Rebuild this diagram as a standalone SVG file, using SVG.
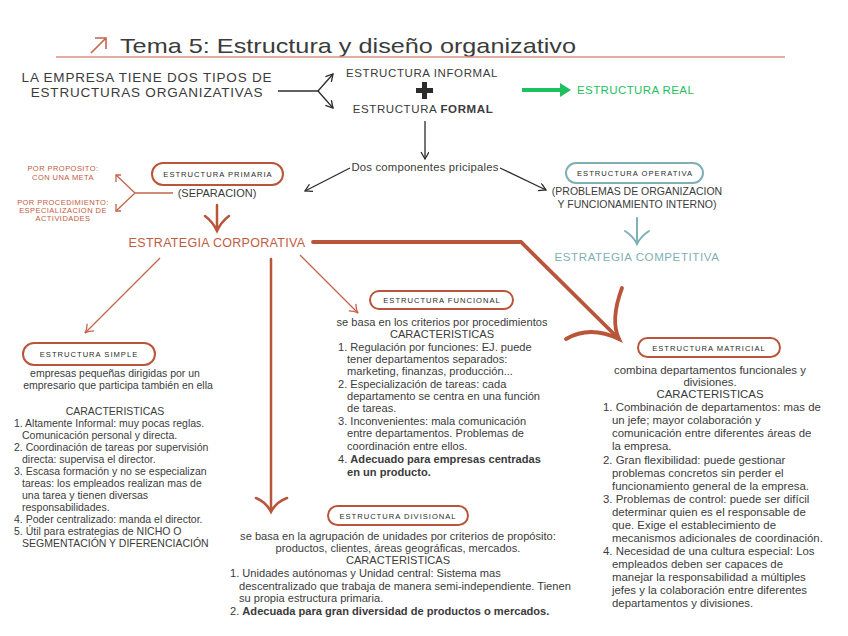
<svg xmlns="http://www.w3.org/2000/svg" width="848" height="636" viewBox="0 0 848 636">
<defs>
<style>
text{font-family:"Liberation Sans",Arial,sans-serif;fill:#3b3b3b}
.t{font-size:10.5px}
.tf{font-size:11.1px}
.tm{font-size:11.4px}
.td{font-size:11.1px}
.c{text-anchor:middle}
.b{font-weight:bold}
.red{fill:#bf5b42}
.sm{font-size:7.5px;letter-spacing:0.45px}
.teal{fill:#7fb0b5}
.pill{fill:#fff;stroke:#b9553b;stroke-width:2}
.pillT{fill:#fff;stroke:#7fb0b5;stroke-width:2}
.pt{font-size:7.6px;letter-spacing:1px;text-anchor:middle;fill:#2b2b2b}
.blk{fill:none;stroke:#2b2b2b;stroke-width:1.3}
.rl{fill:none;stroke:#c4644b;stroke-width:1.3}
.rt{fill:none;stroke:#b9553b;stroke-width:2.5;stroke-linecap:round}
.rth{fill:none;stroke:#b9553b;stroke-width:3.8;stroke-linecap:round}
</style>
<marker id="ab" markerWidth="10" markerHeight="10" refX="8" refY="4" orient="auto" markerUnits="userSpaceOnUse">
<path d="M1,0 L8,4 L1,8" fill="none" stroke="#2b2b2b" stroke-width="1.3"/>
</marker>
<marker id="ar" markerWidth="12" markerHeight="12" refX="9" refY="5" orient="auto" markerUnits="userSpaceOnUse">
<path d="M1,0 Q5,4 9,5 Q5,6 1,10" fill="none" stroke="#c4644b" stroke-width="1.3"/>
</marker>
</defs>
<rect width="848" height="636" fill="#fff"/>

<g id="title">
<path d="M91,53 L106,38 M95,38 L106,38 L106,49" fill="none" stroke="#c4644b" stroke-width="1.6"/>
<text x="120" y="53" font-size="21" fill="#3b3b3b" textLength="456" lengthAdjust="spacingAndGlyphs">Tema 5: Estructura y diseño organizativo</text>
<line x1="56" y1="57" x2="785" y2="57" stroke="#d8937f" stroke-width="1.5"/>
</g>

<g id="connectors">
<path class="blk" d="M278,91 L318,91"/>
<path class="blk" d="M318,91 L333,74" marker-end="url(#ab)"/>
<path class="blk" d="M318,91 L333,108" marker-end="url(#ab)"/>
<path d="M522,90 L562,90" stroke="#1ec15f" stroke-width="4" fill="none"/>
<path d="M560,83 L571,90 L560,97 Z" fill="#1ec15f"/>
<path class="blk" d="M425,121 L425,159" marker-end="url(#ab)"/>
<path class="blk" d="M350,168 L305,191" marker-end="url(#ab)"/>
<path class="blk" d="M500,168 L546,190" marker-end="url(#ab)"/>
<path class="rl" d="M173,193 L135,193 M135,193 L116,175 M135,193 L116,211"/>
<path class="rl" d="M121,175 L116,175 L116,182 M121,211 L116,211 L116,204"/>
<path class="rt" d="M217,205 L217,231 M205,216 Q213,222 217,231 Q221,222 229,216"/>
<path d="M637,218 L637,244 M625,231 Q633,236 637,244 Q641,236 649,231" fill="none" stroke="#7fb0b5" stroke-width="2" stroke-linecap="round"/>
<path class="rth" d="M313,242 L521,242 L619,339"/>
<path class="rth" d="M622,288 Q610,320 619,339 Q590,325 566,339"/>
<path class="rl" d="M300,255 L358,313" marker-end="url(#ar)"/>
<path class="rl" d="M160,258 L85,333" marker-end="url(#ar)"/>
<path class="rt" d="M271,259 L271,512 M256,498 Q266,502 271,512 Q276,502 287,498"/>
</g>

<g id="intro">
<text x="147" y="82" font-size="13.5" class="c" letter-spacing="0.8">LA EMPRESA TIENE DOS TIPOS DE</text>
<text x="147" y="97" font-size="13.5" class="c" letter-spacing="0.8">ESTRUCTURAS ORGANIZATIVAS</text>
</g>

<g id="informal">
<text x="422" y="77" font-size="11.5" class="c" letter-spacing="0.6">ESTRUCTURA INFORMAL</text>
<path d="M422,82 h5 v6 h6 v5 h-6 v6 h-5 v-6 h-6 v-5 h6 z" fill="#2b2b2b"/>
<text x="423" y="113" font-size="11.5" class="c" letter-spacing="0.6">ESTRUCTURA <tspan class="b">FORMAL</tspan></text>
</g>

<g id="real">
<text x="577" y="94" font-size="11.5" letter-spacing="0.4" style="fill:#1ec15f">ESTRUCTURA REAL</text>
</g>

<g id="componentes">
<text x="425" y="171" font-size="11.3" class="c" letter-spacing="0.2">Dos componentes pricipales</text>
</g>

<g id="primaria">
<rect class="pill" x="152" y="163" width="131" height="22" rx="11"/>
<text x="218" y="177" class="pt">ESTRUCTURA PRIMARIA</text>
<text x="217" y="197" font-size="11" class="c">(SEPARACION)</text>
</g>

<g id="proposito">
<text x="63" y="171" class="c red sm">POR PROPOSITO:</text>
<text x="63" y="180" class="c red sm">CON UNA META</text>
<text x="63" y="205" class="c red sm">POR PROCEDIMIENTO:</text>
<text x="63" y="213" class="c red sm">ESPECIALIZACION DE</text>
<text x="63" y="221" class="c red sm">ACTIVIDADES</text>
</g>

<g id="corporativa">
<text x="217" y="247" font-size="12.5" class="c red" letter-spacing="0.3">ESTRATEGIA  CORPORATIVA</text>
</g>

<g id="operativa">
<rect class="pillT" x="566" y="163" width="137" height="20" rx="10"/>
<text x="635" y="176" class="pt">ESTRUCTURA OPERATIVA</text>
<text x="637" y="195" font-size="10.5" class="c">(PROBLEMAS DE ORGANIZACION</text>
<text x="637" y="208" font-size="10.5" class="c">Y FUNCIONAMIENTO INTERNO)</text>
</g>

<g id="competitiva">
<text x="637" y="261" font-size="11.5" class="c teal" letter-spacing="0.6">ESTRATEGIA COMPETITIVA</text>
</g>

<g id="simple">
<rect class="pill" x="23" y="343" width="132" height="22" rx="11"/>
<text x="89" y="357" class="pt">ESTRUCTURA SIMPLE</text>
<text x="115" y="377" class="t c">empresas pequeñas dirigidas por un</text>
<text x="118" y="389" class="t c">empresario que participa también en ella</text>
<text x="115" y="415" class="t c">CARACTERISTICAS</text>
<text x="14" y="427" class="t">1. Altamente Informal: muy pocas reglas.</text>
<text x="22" y="439" class="t">Comunicación personal y directa.</text>
<text x="14" y="451" class="t">2. Coordinación de tareas por supervisión</text>
<text x="22" y="463" class="t">directa: supervisa el director.</text>
<text x="14" y="475" class="t">3. Escasa formación y no se especializan</text>
<text x="22" y="487" class="t">tareas: los empleados realizan mas de</text>
<text x="22" y="499" class="t">una tarea y tienen diversas</text>
<text x="22" y="511" class="t">responsabilidades.</text>
<text x="14" y="523" class="t">4. Poder centralizado: manda el director.</text>
<text x="14" y="535" class="t">5. Útil para estrategias de NICHO O</text>
<text x="22" y="547" class="t">SEGMENTACIÓN Y DIFERENCIACIÓN</text>
</g>

<g id="funcional">
<rect class="pill" x="370" y="291" width="143" height="18" rx="9"/>
<text x="442" y="303" class="pt">ESTRUCTURA FUNCIONAL</text>
<text x="442" y="326" class="tf c">se basa en los criterios por procedimientos</text>
<text x="442" y="338" class="tf c">CARACTERISTICAS</text>
<text x="338" y="351" class="tf">1. Regulación por funciones: EJ. puede</text>
<text x="347" y="363" class="tf">tener departamentos separados:</text>
<text x="347" y="375" class="tf">marketing, finanzas, producción...</text>
<text x="338" y="388" class="tf">2. Especialización de tareas: cada</text>
<text x="347" y="400" class="tf">departamento se centra en una función</text>
<text x="347" y="412" class="tf">de tareas.</text>
<text x="338" y="425" class="tf">3. Inconvenientes: mala comunicación</text>
<text x="347" y="437" class="tf">entre departamentos. Problemas de</text>
<text x="347" y="450" class="tf">coordinación entre ellos.</text>
<text x="338" y="463" class="tf">4. <tspan class="b">Adecuado para empresas centradas</tspan></text>
<text x="347" y="476" class="tf b">en un producto.</text>
</g>

<g id="matricial">
<rect class="pill" x="638" y="338" width="142" height="19" rx="9.5"/>
<text x="709" y="351" class="pt">ESTRUCTURA MATRICIAL</text>
<text x="710" y="374" class="tm c">combina departamentos funcionales y</text>
<text x="710" y="386" class="tm c">divisiones.</text>
<text x="710" y="398" class="tm c">CARACTERISTICAS</text>
<text x="603" y="411" class="tm">1. Combinación de departamentos: mas de</text>
<text x="612" y="424" class="tm">un jefe; mayor colaboración y</text>
<text x="612" y="437" class="tm">comunicación entre diferentes áreas de</text>
<text x="612" y="450" class="tm">la empresa.</text>
<text x="603" y="464" class="tm">2. Gran flexibilidad: puede gestionar</text>
<text x="612" y="477" class="tm">problemas concretos sin perder el</text>
<text x="612" y="490" class="tm">funcionamiento general de la empresa.</text>
<text x="603" y="503" class="tm">3. Problemas de control: puede ser difícil</text>
<text x="612" y="516" class="tm">determinar quien es el responsable de</text>
<text x="612" y="529" class="tm">que. Exige el establecimiento de</text>
<text x="612" y="542" class="tm">mecanismos adicionales de coordinación.</text>
<text x="603" y="555" class="tm">4. Necesidad de una cultura especial: Los</text>
<text x="612" y="568" class="tm">empleados deben ser capaces de</text>
<text x="612" y="581" class="tm">manejar la responsabilidad a múltiples</text>
<text x="612" y="594" class="tm">jefes y la colaboración entre diferentes</text>
<text x="612" y="607" class="tm">departamentos y divisiones.</text>
</g>

<g id="divisional">
<rect class="pill" x="328" y="506" width="140" height="19" rx="9.5"/>
<text x="398" y="519" class="pt">ESTRUCTURA DIVISIONAL</text>
<text x="398" y="540" class="td c">se basa en la agrupación de unidades por criterios de propósito:</text>
<text x="398" y="552" class="td c">productos, clientes, áreas geográficas, mercados.</text>
<text x="398" y="564" class="td c">CARACTERISTICAS</text>
<text x="230" y="577" class="td">1. Unidades autónomas y Unidad central: Sistema mas</text>
<text x="239" y="590" class="td">descentralizado que trabaja de manera semi-independiente. Tienen</text>
<text x="239" y="602" class="td">su propia estructura primaria.</text>
<text x="230" y="615" class="td">2. <tspan class="b">Adecuada para gran diversidad de productos o mercados.</tspan></text>
</g>
</svg>
